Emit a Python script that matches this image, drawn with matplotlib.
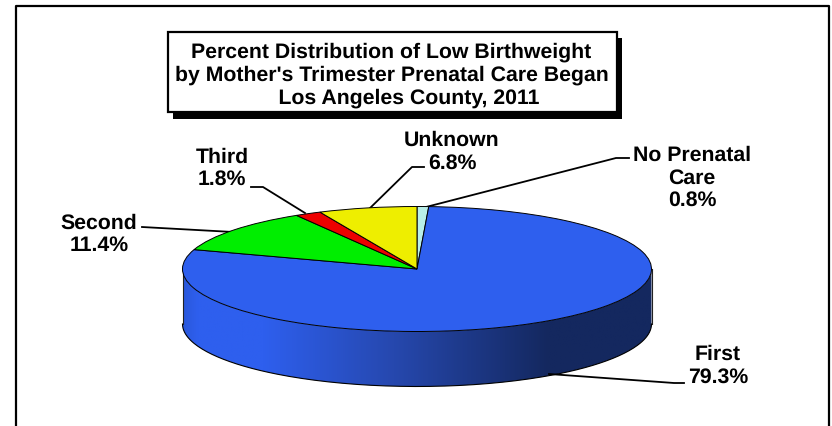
import numpy as np
import matplotlib
matplotlib.use("Agg")
import matplotlib.pyplot as plt
from matplotlib.colors import LinearSegmentedColormap
from matplotlib.patches import Polygon, Rectangle

title = "Percent Distribution of Low Birthweight\nby Mother's Trimester Prenatal Care Began\n      Los Angeles County, 2011"
names = ["No Prenatal\nCare", "First", "Second", "Third", "Unknown"]
values = [0.8, 79.3, 11.4, 1.8, 6.8]
colors = ["#B8EEE8", "#2E5FEE", "#00EE00", "#EE0000", "#EEEE00"]

W, H = 832, 427
plt.rcParams["font.family"] = "Liberation Sans"
plt.rcParams["font.weight"] = "bold"
plt.rcParams["text.hinting"] = "no_hinting"

# ellipse of the pie top, in pixels
cx, cy, rx, ry = 417, 270, 234.5, 62.5
depth = 55

fig = plt.figure(figsize=(W / 100, H / 100), dpi=100)
ax = fig.add_axes([0, 0, 1, 1])
ax.set_xlim(0, W)
ax.set_ylim(H, 0)
ax.axis("off")

# outer frame, bottom edge runs off the picture
ax.plot([15.5, 15.5, 829, 829], [H + 2, 6.5, 6.5, H + 2], color="black", lw=1.6)

# side wall of the pie
t = np.linspace(0, np.pi, 200)
wx = cx + rx * np.cos(t)
wy = cy + ry * np.sin(t)
wall = np.column_stack([np.r_[wx, wx[::-1]], np.r_[wy, wy[::-1] + depth]])
wall_patch = Polygon(wall, closed=True, facecolor="none", edgecolor="none")
ax.add_patch(wall_patch)
cmap = LinearSegmentedColormap.from_list(
    "wall",
    [(0, "#2A58DC"), (0.03, "#2E5FEE"), (0.17, "#2E5FEE"), (0.45, "#2648AE"),
     (0.78, "#14285F"), (1, "#14285F")],
)
img = ax.imshow(np.linspace(0, 1, 256)[None, :], cmap=cmap, aspect="auto",
                extent=[cx - rx, cx + rx, cy + ry + depth, cy - ry], zorder=1)
img.set_clip_path(wall_patch)
ax.set_xlim(0, W)
ax.set_ylim(H, 0)
ax.plot(wx, wy + depth, color="black", lw=0.8, zorder=2)
ax.plot([cx - rx, cx - rx], [cy, cy + depth], color="#222222", lw=0.8, zorder=2)
ax.plot([cx + rx, cx + rx], [cy, cy + depth], color="#222222", lw=0.8, zorder=2)

# title box with its drop shadow
ax.add_patch(Rectangle((173, 39), 449, 81, facecolor="black", edgecolor="none", zorder=3))
ax.add_patch(Rectangle((167.5, 33), 449, 80, facecolor="white", edgecolor="black", lw=1.6, zorder=4))
ax.text(391.5, 75.5, title, ha="center", va="center", fontsize=15.3, linespacing=1.22, zorder=5)

# pie top, squashed by giving it a flat axes
pie_ax = fig.add_axes([(cx - rx) / W, 1 - (cy + ry) / H, 2 * rx / W, 2 * ry / H])
pie_ax.pie(values, colors=colors, startangle=90, counterclock=False, radius=1,
           wedgeprops={"edgecolor": "black", "linewidth": 0.7})
pie_ax.set_aspect("auto")
pie_ax.set_xlim(-1, 1)
pie_ax.set_ylim(-1, 1)
for w in pie_ax.patches:
    w.set_clip_on(False)

# labels and leader lines
label_pos = [(692, 178), (718, 366), (99, 234.5), (222, 168.5), (452, 152)]
leaders = [
    [(426, 208), (616, 159), (629, 159)],
    [(549, 375), (674, 384), (684, 384)],
    [(142, 228), (233, 233)],
    [(251, 188), (263, 188), (305, 214)],
    [(367, 212), (412, 168), (424, 168)],
]
for name, val, pos, lead in zip(names, values, label_pos, leaders):
    ax.text(pos[0], pos[1], f"{name}\n{val}%", ha="center", va="center",
            fontsize=15.3, linespacing=1.2, zorder=6)
    xs, ys = zip(*lead)
    ax.plot(xs, ys, color="black", lw=1.3, zorder=6, solid_joinstyle="round")

fig.savefig("out.png", dpi=100)
